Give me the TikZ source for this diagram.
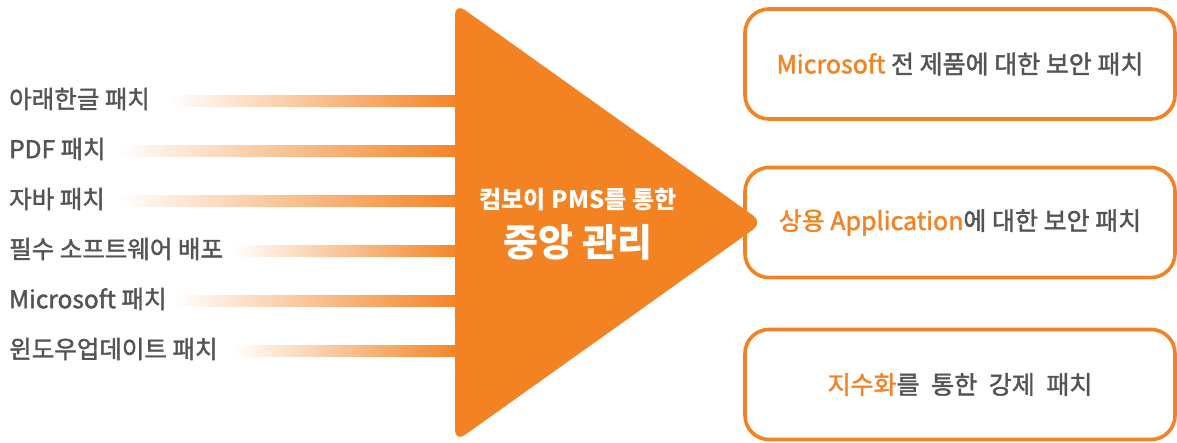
\documentclass[tikz,border=0pt]{standalone}
\usepackage{fontspec}
\setmainfont{Noto Sans CJK KR}
\newfontfamily\krmedium[FakeBold=1.6]{Noto Sans CJK KR}
\usetikzlibrary{positioning}
\definecolor{pmsorange}{RGB}{243,130,35}
\definecolor{pmsgray}{RGB}{84,84,86}
\tikzset{
	patchlabel/.style={anchor=west, inner sep=0pt, text=pmsgray, font=\krmedium\fontsize{24.5}{27}\selectfont},
	resultbox/.style={draw=pmsorange, line width=3.6pt, rounded corners=24pt, fill=white, minimum width=430pt, minimum height=110pt, text=pmsgray, font=\krmedium\fontsize{25}{28}\selectfont},
	hubtext/.style={text=white, font=\bfseries\fontsize{#1}{#1}\selectfont, inner sep=0pt}
}
\begin{document}
\begin{tikzpicture}[x=1pt, y=-1pt]
		\useasboundingbox (0,0) rectangle (1177,442);
		\node[resultbox] (box1) at (960,64) {\textcolor{pmsorange}{Microsoft} 전 제품에 대한 보안 패치};
		\node[resultbox] (box2) at (960,222.5) {\textcolor{pmsorange}{상용 Application}에 대한 보안 패치};
		\node[resultbox] (box3) at (960,384.5) {\textcolor{pmsorange}{지수화}를\hspace{6pt} 통한\hspace{6pt} 강제\hspace{6pt} 패치};
		\foreach \i/\txt/\bx in {0/아래한글 패치/170, 1/PDF 패치/117, 2/자바 패치/117, 3/필수 소프트웨어 배포/233, 4/Microsoft 패치/173, 5/윈도우업데이트 패치/233}{
			\node[patchlabel] (patch\i) at (9,{99+50*\i}) {\txt};
			\shade[left color=white, right color=pmsorange] (\bx,{95.5+50*\i}) rectangle (462,{106.5+50*\i});
		}
		\fill[pmsorange, rounded corners=12pt] (455,3) -- (763,222.5) -- (455,442) -- cycle;
		\node[hubtext=24] (hubtop) at (578,200) {컴보이 PMS를 통한};
		\node[hubtext=38, below=13pt of hubtop] (hubmain) {중앙 관리};
	\end{tikzpicture}
\end{document}
